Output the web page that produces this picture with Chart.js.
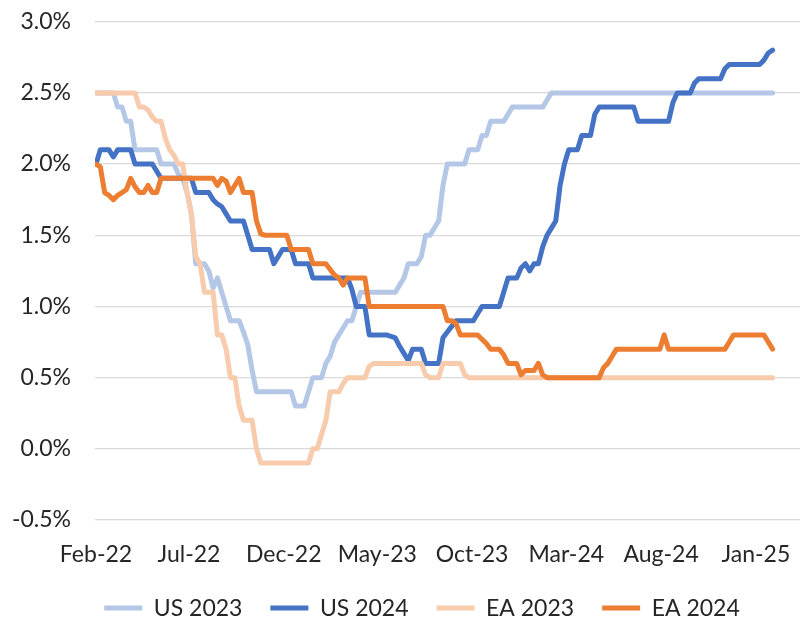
<!DOCTYPE html>
<html>
<head>
<meta charset="utf-8">
<script src="https://cdn.jsdelivr.net/npm/chart.js@4/dist/chart.umd.min.js"></script>
<style>
  html, body { margin: 0; padding: 0; background: #ffffff; }
  #wrap { width: 804px; height: 625px; }
</style>
</head>
<body>
<div id="wrap"><canvas id="chart" width="804" height="625"></canvas></div>
<script>
// ---- data (weekly observations starting 1 Feb 2022) ----
const startDate = '2022-02-01';
const stepDays = 7;

const seriesNames = ['US 2023', 'US 2024', 'EA 2023', 'EA 2024'];

const tickDates  = ['2022-02-01','2022-07-01','2022-12-01','2023-05-01','2023-10-01','2024-03-01','2024-08-01','2025-01-01'];
const tickLabels = ['Feb-22','Jul-22','Dec-22','May-23','Oct-23','Mar-24','Aug-24','Jan-25'];

const yTicks = [-0.5, 0, 0.5, 1.0, 1.5, 2.0, 2.5, 3.0];

const us2023 = [
  2.5,2.5,2.5,2.5,2.5,2.4,2.4,2.3,2.3,2.1,
  2.1,2.1,2.1,2.1,2.1,2.0,2.0,2.0,2.0,1.93,
  1.9,1.8,1.65,1.3,1.3,1.3,1.25,1.13,1.2,1.1,
  1.0,0.9,0.9,0.9,0.82,0.73,0.55,0.4,0.4,0.4,
  0.4,0.4,0.4,0.4,0.4,0.4,0.3,0.3,0.3,0.4,
  0.5,0.5,0.5,0.6,0.65,0.75,0.8,0.85,0.9,0.9,
  1.0,1.1,1.1,1.1,1.1,1.1,1.1,1.1,1.1,1.1,
  1.15,1.2,1.3,1.3,1.3,1.35,1.5,1.5,1.55,1.6,
  1.85,2.0,2.0,2.0,2.0,2.0,2.1,2.1,2.1,2.2,
  2.2,2.3,2.3,2.3,2.3,2.35,2.4,2.4,2.4,2.4,
  2.4,2.4,2.4,2.4,2.45,2.5,2.5,2.5,2.5,2.5,
  2.5,2.5,2.5,2.5,2.5,2.5,2.5,2.5,2.5,2.5,
  2.5,2.5,2.5,2.5,2.5,2.5,2.5,2.5,2.5,2.5,
  2.5,2.5,2.5,2.5,2.5,2.5,2.5,2.5,2.5,2.5,
  2.5,2.5,2.5,2.5,2.5,2.5,2.5,2.5,2.5,2.5,
  2.5,2.5,2.5,2.5,2.5,2.5,2.5
];

const us2024 = [
  2.0,2.1,2.1,2.1,2.05,2.1,2.1,2.1,2.1,2.0,
  2.0,2.0,2.0,2.0,1.95,1.9,1.9,1.9,1.9,1.9,
  1.9,1.9,1.9,1.8,1.8,1.8,1.8,1.75,1.72,1.7,
  1.65,1.6,1.6,1.6,1.6,1.5,1.4,1.4,1.4,1.4,
  1.4,1.3,1.35,1.4,1.4,1.4,1.3,1.3,1.3,1.3,
  1.2,1.2,1.2,1.2,1.2,1.2,1.2,1.2,1.2,1.12,
  1.0,1.0,1.0,0.8,0.8,0.8,0.8,0.8,0.79,0.78,
  0.72,0.67,0.62,0.7,0.7,0.7,0.6,0.6,0.6,0.6,
  0.78,0.82,0.86,0.9,0.9,0.9,0.9,0.9,0.95,1.0,
  1.0,1.0,1.0,1.0,1.1,1.2,1.2,1.2,1.27,1.3,
  1.25,1.3,1.3,1.42,1.5,1.55,1.6,1.85,2.0,2.1,
  2.1,2.1,2.2,2.2,2.2,2.35,2.4,2.4,2.4,2.4,
  2.4,2.4,2.4,2.4,2.4,2.3,2.3,2.3,2.3,2.3,
  2.3,2.3,2.3,2.43,2.5,2.5,2.5,2.5,2.57,2.6,
  2.6,2.6,2.6,2.6,2.6,2.67,2.7,2.7,2.7,2.7,
  2.7,2.7,2.7,2.7,2.73,2.78,2.8
];

const ea2023 = [
  2.5,2.5,2.5,2.5,2.5,2.5,2.5,2.5,2.5,2.5,
  2.4,2.4,2.38,2.33,2.3,2.3,2.18,2.1,2.06,2.0,
  2.0,1.8,1.65,1.35,1.3,1.1,1.1,1.1,0.8,0.8,
  0.7,0.5,0.5,0.3,0.2,0.2,0.2,0.0,-0.1,-0.1,
  -0.1,-0.1,-0.1,-0.1,-0.1,-0.1,-0.1,-0.1,-0.1,-0.1,
  0.0,0.0,0.1,0.2,0.4,0.4,0.4,0.46,0.5,0.5,
  0.5,0.5,0.5,0.58,0.6,0.6,0.6,0.6,0.6,0.6,
  0.6,0.6,0.6,0.6,0.6,0.6,0.52,0.5,0.5,0.5,
  0.6,0.6,0.6,0.6,0.6,0.52,0.5,0.5,0.5,0.5,
  0.5,0.5,0.5,0.5,0.5,0.5,0.5,0.5,0.5,0.5,
  0.5,0.5,0.5,0.5,0.5,0.5,0.5,0.5,0.5,0.5,
  0.5,0.5,0.5,0.5,0.5,0.5,0.5,0.5,0.5,0.5,
  0.5,0.5,0.5,0.5,0.5,0.5,0.5,0.5,0.5,0.5,
  0.5,0.5,0.5,0.5,0.5,0.5,0.5,0.5,0.5,0.5,
  0.5,0.5,0.5,0.5,0.5,0.5,0.5,0.5,0.5,0.5,
  0.5,0.5,0.5,0.5,0.5,0.5,0.5
];

const ea2024 = [
  2.0,1.98,1.8,1.78,1.75,1.78,1.8,1.82,1.9,1.84,
  1.8,1.8,1.85,1.8,1.8,1.9,1.9,1.9,1.9,1.9,
  1.9,1.9,1.9,1.9,1.9,1.9,1.9,1.9,1.85,1.9,
  1.88,1.8,1.85,1.9,1.8,1.8,1.8,1.6,1.51,1.5,
  1.5,1.5,1.5,1.5,1.5,1.4,1.4,1.4,1.4,1.4,
  1.3,1.3,1.3,1.3,1.26,1.22,1.2,1.15,1.2,1.2,
  1.2,1.2,1.2,1.0,1.0,1.0,1.0,1.0,1.0,1.0,
  1.0,1.0,1.0,1.0,1.0,1.0,1.0,1.0,1.0,1.0,
  1.0,0.9,0.9,0.88,0.8,0.8,0.8,0.8,0.8,0.77,
  0.74,0.7,0.7,0.7,0.66,0.6,0.6,0.6,0.52,0.55,
  0.55,0.55,0.6,0.52,0.5,0.5,0.5,0.5,0.5,0.5,
  0.5,0.5,0.5,0.5,0.5,0.5,0.5,0.57,0.6,0.65,
  0.7,0.7,0.7,0.7,0.7,0.7,0.7,0.7,0.7,0.7,
  0.7,0.8,0.7,0.7,0.7,0.7,0.7,0.7,0.7,0.7,
  0.7,0.7,0.7,0.7,0.7,0.7,0.75,0.8,0.8,0.8,
  0.8,0.8,0.8,0.8,0.8,0.75,0.7
];

// ---- helpers ----
const DAY = 86400000;
const t0 = Date.parse(startDate + 'T00:00:00Z');
const dayOffset = s => Math.round((Date.parse(s + 'T00:00:00Z') - t0) / DAY);
const tickDays = tickDates.map(dayOffset);
const toPoints = arr => arr.map((v, i) => ({ x: i * stepDays, y: v }));

const colors = ['#B4C7E7', '#4472C4', '#F8CBAD', '#ED7D31'];
const seriesData = [us2023, us2024, ea2023, ea2024];

Chart.defaults.font.family = 'Lato, "Open Sans", sans-serif';
Chart.defaults.font.size = 23;
Chart.defaults.color = '#262626';

const legendShift = {
  id: 'legendShift',
  afterLayout(chart) {
    if (chart.legend) { chart.legend.left += 22; chart.legend.right += 22; }
  }
};

new Chart(document.getElementById('chart'), {
  type: 'line',
  data: {
    datasets: seriesData.map((arr, i) => ({
      label: seriesNames[i],
      data: toPoints(arr),
      borderColor: colors[i],
      backgroundColor: colors[i],
      borderWidth: 5,
      pointRadius: 0,
      pointHoverRadius: 0,
      tension: 0,
      fill: false,
      borderCapStyle: 'round',
      borderJoinStyle: 'round',
      order: seriesData.length - i
    }))
  },
  options: {
    responsive: false,
    animation: false,
    events: [],
    layout: { autoPadding: false, padding: { top: 21.7, right: 4, left: 0, bottom: -4.6 } },
    plugins: {
      tooltip: { enabled: false },
      legend: {
        position: 'bottom',
        labels: {
          usePointStyle: true,
          pointStyle: 'line',
          pointStyleWidth: 38,
          padding: 28,
          color: '#262626',
          font: { size: 23 },
          sort: (a, b) => a.datasetIndex - b.datasetIndex
        }
      }
    },
    scales: {
      x: {
        type: 'linear',
        min: -1.6,
        max: 1136.2,
        border: { display: false },
        grid: { display: false, drawTicks: false },
        afterBuildTicks: scale => { scale.ticks = tickDays.map(v => ({ value: v })); },
        afterFit: scale => {
          scale.height = 21 + 23 * 1.2;
          scale.paddingLeft = 0;
          scale.paddingRight = 0;
        },
        ticks: {
          autoSkip: false,
          maxRotation: 0,
          padding: 21,
          callback: (value, index) => tickLabels[index]
        }
      },
      y: {
        type: 'linear',
        min: -0.5,
        max: 3.0,
        border: { display: false },
        grid: { color: '#D9D9D9', lineWidth: 1.3, drawTicks: false },
        afterBuildTicks: scale => { scale.ticks = yTicks.map(v => ({ value: v })); },
        afterFit: scale => {
          scale.width = 95;
          scale.paddingTop = 0;
          scale.paddingBottom = 0;
        },
        ticks: {
          padding: 24,
          callback: v => v.toFixed(1) + '%'
        }
      }
    }
  },
  plugins: [legendShift]
});
</script>
</body>
</html>
